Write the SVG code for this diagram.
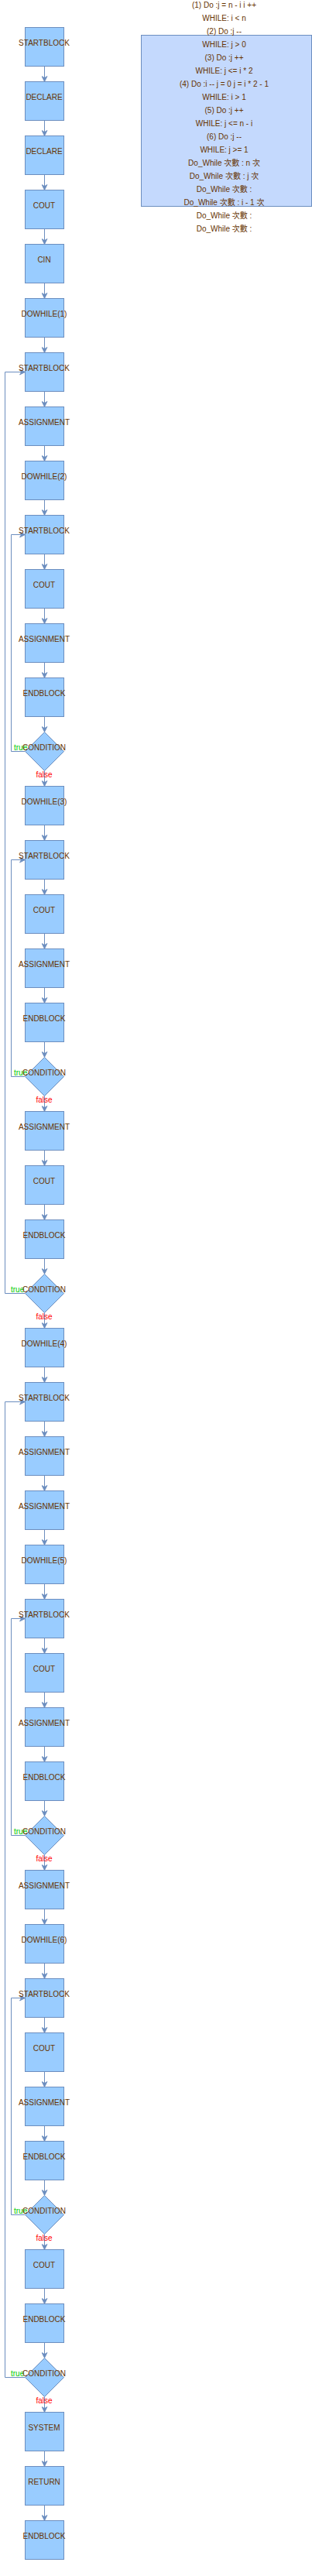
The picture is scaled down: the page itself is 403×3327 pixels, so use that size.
<svg xmlns="http://www.w3.org/2000/svg" width="403" height="3327" viewBox="0 0 403 3327">
<style>
.n{fill:#99ccff;stroke:#6c8ebf;stroke-width:1}
.t{font-family:"Liberation Sans",Arial,"Noto Sans CJK TC",sans-serif;font-size:10px;fill:#663300;text-anchor:middle}
.e{fill:none;stroke:#6c8ebf;stroke-width:1;marker-end:url(#a)}
.tr{font-family:"Liberation Sans",Arial,sans-serif;font-size:10px;fill:#00cc00}
.fl{font-family:"Liberation Sans",Arial,sans-serif;font-size:10px;fill:#ff0000;text-anchor:middle}
.note{fill:#c4d9fd;stroke:#6c8ebf;stroke-width:1}
</style>
<defs>
<marker id="a" markerUnits="userSpaceOnUse" viewBox="-8 -4 9 8" refX="0" refY="0" markerWidth="9" markerHeight="8" orient="auto">
<path d="M-7,-3.5 L0,0 L-7,3.5 L-5,0 Z" fill="#6c8ebf" stroke="#6c8ebf" stroke-width="0.8" stroke-linejoin="miter"/>
</marker>
</defs>
<g id="note">
<rect class="note" x="182.5" y="45.5" width="220" height="221"/>
<text class="t" x="289.5" y="10">(1) Do :j = n - i i ++</text>
<text class="t" x="289.5" y="27">WHILE: i &lt; n</text>
<text class="t" x="289.5" y="44">(2) Do :j --</text>
<text class="t" x="289.5" y="61">WHILE: j &gt; 0</text>
<text class="t" x="289.5" y="78">(3) Do :j ++</text>
<text class="t" x="289.5" y="95">WHILE: j &lt;= i * 2</text>
<text class="t" x="289.5" y="112">(4) Do :i -- j = 0 j = i * 2 - 1</text>
<text class="t" x="289.5" y="129">WHILE: i &gt; 1</text>
<text class="t" x="289.5" y="146">(5) Do :j ++</text>
<text class="t" x="289.5" y="163">WHILE: j &lt;= n - i</text>
<text class="t" x="289.5" y="180">(6) Do :j --</text>
<text class="t" x="289.5" y="197">WHILE: j &gt;= 1</text>
<text class="t" x="289.5" y="214">Do_While 次數 : n 次</text>
<text class="t" x="289.5" y="231">Do_While 次數 : j 次</text>
<text class="t" x="289.5" y="248">Do_While 次數 :</text>
<text class="t" x="289.5" y="265">Do_While 次數 : i - 1 次</text>
<text class="t" x="289.5" y="282">Do_While 次數 :</text>
<text class="t" x="289.5" y="299">Do_While 次數 :</text>
</g>
<g id="edges">
<path class="e" d="M57.5 85.5V105.5"/>
<path class="e" d="M57.5 155.5V175.5"/>
<path class="e" d="M57.5 225.5V245.5"/>
<path class="e" d="M57.5 295.5V315.5"/>
<path class="e" d="M57.5 365.5V385.5"/>
<path class="e" d="M57.5 435.5V455.5"/>
<path class="e" d="M57.5 505.5V525.5"/>
<path class="e" d="M57.5 575.5V595.5"/>
<path class="e" d="M57.5 645.5V665.5"/>
<path class="e" d="M57.5 715.5V735.5"/>
<path class="e" d="M57.5 785.5V805.5"/>
<path class="e" d="M57.5 855.5V875.5"/>
<path class="e" d="M57.5 925.5V945.5"/>
<path class="e" d="M57.5 995.5V1015.5"/>
<path class="e" d="M57.5 1065.5V1085.5"/>
<path class="e" d="M57.5 1135.5V1155.5"/>
<path class="e" d="M57.5 1205.5V1225.5"/>
<path class="e" d="M57.5 1275.5V1295.5"/>
<path class="e" d="M57.5 1345.5V1365.5"/>
<path class="e" d="M57.5 1415.5V1435.5"/>
<path class="e" d="M57.5 1485.5V1505.5"/>
<path class="e" d="M57.5 1555.5V1575.5"/>
<path class="e" d="M57.5 1625.5V1645.5"/>
<path class="e" d="M57.5 1695.5V1715.5"/>
<path class="e" d="M57.5 1765.5V1785.5"/>
<path class="e" d="M57.5 1835.5V1855.5"/>
<path class="e" d="M57.5 1905.5V1925.5"/>
<path class="e" d="M57.5 1975.5V1995.5"/>
<path class="e" d="M57.5 2045.5V2065.5"/>
<path class="e" d="M57.5 2115.5V2135.5"/>
<path class="e" d="M57.5 2185.5V2205.5"/>
<path class="e" d="M57.5 2255.5V2275.5"/>
<path class="e" d="M57.5 2325.5V2345.5"/>
<path class="e" d="M57.5 2395.5V2415.5"/>
<path class="e" d="M57.5 2465.5V2485.5"/>
<path class="e" d="M57.5 2535.5V2555.5"/>
<path class="e" d="M57.5 2605.5V2625.5"/>
<path class="e" d="M57.5 2675.5V2695.5"/>
<path class="e" d="M57.5 2745.5V2765.5"/>
<path class="e" d="M57.5 2815.5V2835.5"/>
<path class="e" d="M57.5 2885.5V2905.5"/>
<path class="e" d="M57.5 2955.5V2975.5"/>
<path class="e" d="M57.5 3025.5V3045.5"/>
<path class="e" d="M57.5 3095.5V3115.5"/>
<path class="e" d="M57.5 3165.5V3185.5"/>
<path class="e" d="M57.5 3235.5V3255.5"/>
<path class="e" d="M32.5 970.5H14.5V690.5H32.5"/>
<path class="e" d="M32.5 1390.5H14.5V1110.5H32.5"/>
<path class="e" d="M32.5 1670.5H6.5V480.5H32.5"/>
<path class="e" d="M32.5 2370.5H14.5V2090.5H32.5"/>
<path class="e" d="M32.5 2860.5H14.5V2580.5H32.5"/>
<path class="e" d="M32.5 3070.5H6.5V1810.5H32.5"/>
<text class="tr" x="18" y="969">true</text>
<text class="fl" x="57" y="1004">false</text>
<text class="tr" x="18" y="1389">true</text>
<text class="fl" x="57" y="1424">false</text>
<text class="tr" x="14" y="1669">true</text>
<text class="fl" x="57" y="1704">false</text>
<text class="tr" x="18" y="2369">true</text>
<text class="fl" x="57" y="2404">false</text>
<text class="tr" x="18" y="2859">true</text>
<text class="fl" x="57" y="2894">false</text>
<text class="tr" x="14" y="3069">true</text>
<text class="fl" x="57" y="3104">false</text>
</g>
<g id="n0"><rect class="n" x="32.5" y="35.5" width="50" height="50"/><text class="t" x="57" y="59">STARTBLOCK</text></g>
<g id="n1"><rect class="n" x="32.5" y="105.5" width="50" height="50"/><text class="t" x="57" y="129">DECLARE</text></g>
<g id="n2"><rect class="n" x="32.5" y="175.5" width="50" height="50"/><text class="t" x="57" y="199">DECLARE</text></g>
<g id="n3"><rect class="n" x="32.5" y="245.5" width="50" height="50"/><text class="t" x="57" y="269">COUT</text></g>
<g id="n4"><rect class="n" x="32.5" y="315.5" width="50" height="50"/><text class="t" x="57" y="339">CIN</text></g>
<g id="n5"><rect class="n" x="32.5" y="385.5" width="50" height="50"/><text class="t" x="57" y="409">DOWHILE(1)</text></g>
<g id="n6"><rect class="n" x="32.5" y="455.5" width="50" height="50"/><text class="t" x="57" y="479">STARTBLOCK</text></g>
<g id="n7"><rect class="n" x="32.5" y="525.5" width="50" height="50"/><text class="t" x="57" y="549">ASSIGNMENT</text></g>
<g id="n8"><rect class="n" x="32.5" y="595.5" width="50" height="50"/><text class="t" x="57" y="619">DOWHILE(2)</text></g>
<g id="n9"><rect class="n" x="32.5" y="665.5" width="50" height="50"/><text class="t" x="57" y="689">STARTBLOCK</text></g>
<g id="n10"><rect class="n" x="32.5" y="735.5" width="50" height="50"/><text class="t" x="57" y="759">COUT</text></g>
<g id="n11"><rect class="n" x="32.5" y="805.5" width="50" height="50"/><text class="t" x="57" y="829">ASSIGNMENT</text></g>
<g id="n12"><rect class="n" x="32.5" y="875.5" width="50" height="50"/><text class="t" x="57" y="899">ENDBLOCK</text></g>
<g id="n13"><path class="n" d="M57.5 945.5L82.5 970.5L57.5 995.5L32.5 970.5Z"/><text class="t" x="57" y="969">CONDITION</text></g>
<g id="n14"><rect class="n" x="32.5" y="1015.5" width="50" height="50"/><text class="t" x="57" y="1039">DOWHILE(3)</text></g>
<g id="n15"><rect class="n" x="32.5" y="1085.5" width="50" height="50"/><text class="t" x="57" y="1109">STARTBLOCK</text></g>
<g id="n16"><rect class="n" x="32.5" y="1155.5" width="50" height="50"/><text class="t" x="57" y="1179">COUT</text></g>
<g id="n17"><rect class="n" x="32.5" y="1225.5" width="50" height="50"/><text class="t" x="57" y="1249">ASSIGNMENT</text></g>
<g id="n18"><rect class="n" x="32.5" y="1295.5" width="50" height="50"/><text class="t" x="57" y="1319">ENDBLOCK</text></g>
<g id="n19"><path class="n" d="M57.5 1365.5L82.5 1390.5L57.5 1415.5L32.5 1390.5Z"/><text class="t" x="57" y="1389">CONDITION</text></g>
<g id="n20"><rect class="n" x="32.5" y="1435.5" width="50" height="50"/><text class="t" x="57" y="1459">ASSIGNMENT</text></g>
<g id="n21"><rect class="n" x="32.5" y="1505.5" width="50" height="50"/><text class="t" x="57" y="1529">COUT</text></g>
<g id="n22"><rect class="n" x="32.5" y="1575.5" width="50" height="50"/><text class="t" x="57" y="1599">ENDBLOCK</text></g>
<g id="n23"><path class="n" d="M57.5 1645.5L82.5 1670.5L57.5 1695.5L32.5 1670.5Z"/><text class="t" x="57" y="1669">CONDITION</text></g>
<g id="n24"><rect class="n" x="32.5" y="1715.5" width="50" height="50"/><text class="t" x="57" y="1739">DOWHILE(4)</text></g>
<g id="n25"><rect class="n" x="32.5" y="1785.5" width="50" height="50"/><text class="t" x="57" y="1809">STARTBLOCK</text></g>
<g id="n26"><rect class="n" x="32.5" y="1855.5" width="50" height="50"/><text class="t" x="57" y="1879">ASSIGNMENT</text></g>
<g id="n27"><rect class="n" x="32.5" y="1925.5" width="50" height="50"/><text class="t" x="57" y="1949">ASSIGNMENT</text></g>
<g id="n28"><rect class="n" x="32.5" y="1995.5" width="50" height="50"/><text class="t" x="57" y="2019">DOWHILE(5)</text></g>
<g id="n29"><rect class="n" x="32.5" y="2065.5" width="50" height="50"/><text class="t" x="57" y="2089">STARTBLOCK</text></g>
<g id="n30"><rect class="n" x="32.5" y="2135.5" width="50" height="50"/><text class="t" x="57" y="2159">COUT</text></g>
<g id="n31"><rect class="n" x="32.5" y="2205.5" width="50" height="50"/><text class="t" x="57" y="2229">ASSIGNMENT</text></g>
<g id="n32"><rect class="n" x="32.5" y="2275.5" width="50" height="50"/><text class="t" x="57" y="2299">ENDBLOCK</text></g>
<g id="n33"><path class="n" d="M57.5 2345.5L82.5 2370.5L57.5 2395.5L32.5 2370.5Z"/><text class="t" x="57" y="2369">CONDITION</text></g>
<g id="n34"><rect class="n" x="32.5" y="2415.5" width="50" height="50"/><text class="t" x="57" y="2439">ASSIGNMENT</text></g>
<g id="n35"><rect class="n" x="32.5" y="2485.5" width="50" height="50"/><text class="t" x="57" y="2509">DOWHILE(6)</text></g>
<g id="n36"><rect class="n" x="32.5" y="2555.5" width="50" height="50"/><text class="t" x="57" y="2579">STARTBLOCK</text></g>
<g id="n37"><rect class="n" x="32.5" y="2625.5" width="50" height="50"/><text class="t" x="57" y="2649">COUT</text></g>
<g id="n38"><rect class="n" x="32.5" y="2695.5" width="50" height="50"/><text class="t" x="57" y="2719">ASSIGNMENT</text></g>
<g id="n39"><rect class="n" x="32.5" y="2765.5" width="50" height="50"/><text class="t" x="57" y="2789">ENDBLOCK</text></g>
<g id="n40"><path class="n" d="M57.5 2835.5L82.5 2860.5L57.5 2885.5L32.5 2860.5Z"/><text class="t" x="57" y="2859">CONDITION</text></g>
<g id="n41"><rect class="n" x="32.5" y="2905.5" width="50" height="50"/><text class="t" x="57" y="2929">COUT</text></g>
<g id="n42"><rect class="n" x="32.5" y="2975.5" width="50" height="50"/><text class="t" x="57" y="2999">ENDBLOCK</text></g>
<g id="n43"><path class="n" d="M57.5 3045.5L82.5 3070.5L57.5 3095.5L32.5 3070.5Z"/><text class="t" x="57" y="3069">CONDITION</text></g>
<g id="n44"><rect class="n" x="32.5" y="3115.5" width="50" height="50"/><text class="t" x="57" y="3139">SYSTEM</text></g>
<g id="n45"><rect class="n" x="32.5" y="3185.5" width="50" height="50"/><text class="t" x="57" y="3209">RETURN</text></g>
<g id="n46"><rect class="n" x="32.5" y="3255.5" width="50" height="50"/><text class="t" x="57" y="3279">ENDBLOCK</text></g>
</svg>
